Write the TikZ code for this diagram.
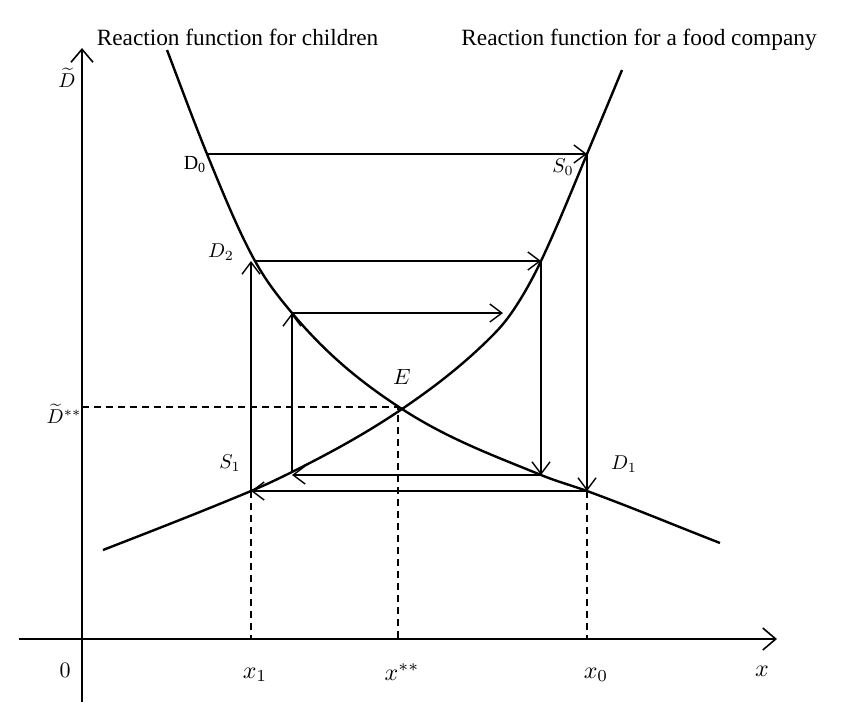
\documentclass[tikz,border=0pt]{standalone}
\usepackage{fontspec}
\setmainfont{Liberation Serif}
\usetikzlibrary{arrows.meta}
\tikzset{
  curve/.style={line width=2.4pt},
  axis/.style={line width=1.8pt,-{Straight Barb[length=13pt,width=22pt,line width=1.6pt]}},
  step arrow/.style={line width=1.5pt,-{Straight Barb[length=12pt,width=18pt,line width=1.4pt]}},
  guide/.style={line width=1.2pt,dash pattern=on 7pt off 5pt},
  lab/.style={inner sep=0pt,scale=2},
  biglab/.style={inner sep=0pt,scale=2.4},
  title/.style={inner sep=0pt,anchor=base,font=\fontsize{23.3}{27}\selectfont},
}
\begin{document}
\begin{tikzpicture}[x=1pt,y=-1pt]
\useasboundingbox (0,0) rectangle (841,715);
\fill[white] (0,0) rectangle (841,715);
% axes
\coordinate (O) at (82,639);
\coordinate (ybot) at (82,702);
\coordinate (ytop) at (82,48);
\coordinate (xleft) at (19,639);
\coordinate (xright) at (777,639);
\draw[axis] (ybot) -- (ytop);
\draw[axis] (xleft) -- (xright);
% key points
\coordinate (D0) at (207,154);
\coordinate (S0) at (587,154);
\coordinate (D1) at (587,491);
\coordinate (S1) at (251,491);
\coordinate (D2) at (255,261);
\coordinate (P2) at (541,261);
\coordinate (D3) at (292,313);
\coordinate (P3) at (503,313);
\coordinate (Q3) at (541,475);
\coordinate (S3) at (292,473);
\coordinate (E) at (402,409);
\coordinate (F1) at (488,340);
\coordinate (F2) at (510,315);
\coordinate (ctop) at (167,50);
\coordinate (cend) at (720,543);
\coordinate (fstart) at (103,550);
\coordinate (ftop) at (622,70);
% reaction function for children
\draw[curve] (ctop)
   .. controls (180.3,84.9) and (193.7,121.3) .. (D0)
   .. controls (223,193.2) and (239,232.2) .. (D2)
   .. controls (267.3,283.2) and (279.7,298.2) .. (D3)
   .. controls (328.7,357) and (365.3,385.2) .. (E)
   .. controls (448.3,439.1) and (494.7,456) .. (Q3)
   .. controls (556.3,481.3) and (571.7,485.4) .. (D1)
   .. controls (631.3,507.2) and (675.7,525.7) .. (cend);
% reaction function for a food company
\draw[curve] (fstart)
   .. controls (152.3,530.8) and (201.7,511.7) .. (S1)
   .. controls (264.7,485.3) and (278.3,478.8) .. (292,472)
   .. controls (328.7,453.7) and (365.3,433.9) .. (E)
   .. controls (430.7,389.5) and (459.3,368.1) .. (F1)
   .. controls (495.3,332.8) and (502.7,325.3) .. (F2)
   .. controls (520.3,300.5) and (530.7,282.7) .. (P2)
   .. controls (556.3,228.8) and (571.7,190.8) .. (S0)
   .. controls (598.7,126) and (610.3,98.4) .. (ftop);
% dashed guides
\coordinate (Ey) at (82,407);
\coordinate (Ed) at (398,407);
\coordinate (Ex) at (398,639);
\draw[guide] (Ey) -- (Ed) -- (Ex);
\draw[guide] (S1) -- (S1 |- O);
\draw[guide] (D1) -- (D1 |- O);
% cobweb arrows
\draw[step arrow] (D0) -- (S0);
\draw[step arrow] (S0) -- (D1);
\draw[step arrow] (D1) -- (S1);
\draw[step arrow] (S1) -- (S1 |- D2);
\draw[step arrow] (D2) -- (P2);
\draw[step arrow] (P2) -- (Q3);
\draw[step arrow] (Q3) -- (Q3 -| S3);
\draw[step arrow] (S3) -- (D3);
\draw[step arrow] (D3) -- (P3);
% labels
\node[title] (t1) at (237.5,45) {Reaction function for children};
\node[title] (t2) at (639,45) {Reaction function for a food company};
\node[lab] (lD) at (67,78) {$\widetilde{D}$};
\node[lab] (lDss) at (64,414) {$\widetilde{D}^{**}$};
\node[lab,scale=1.1] (l0) at (65,670) {$0$};
\node[biglab] (lx1) at (255,675) {$x_1$};
\node[biglab] (lxss) at (402,672) {$x^{**}$};
\node[biglab] (lx0) at (596,675) {$x_0$};
\node[biglab] (lx) at (762,671) {$x$};
\node[lab] (lD0) at (195,165) {D$_{\mathrm{0}}$};
\node[lab] (lS0) at (563,167) {$S_0$};
\node[lab] (lD2) at (221,252) {$D_2$};
\node[lab,scale=1.1] (lE) at (402,377) {$E$};
\node[lab] (lS1) at (230,463) {$S_1$};
\node[lab] (lD1) at (624,464) {$D_1$};
\end{tikzpicture}
\end{document}
